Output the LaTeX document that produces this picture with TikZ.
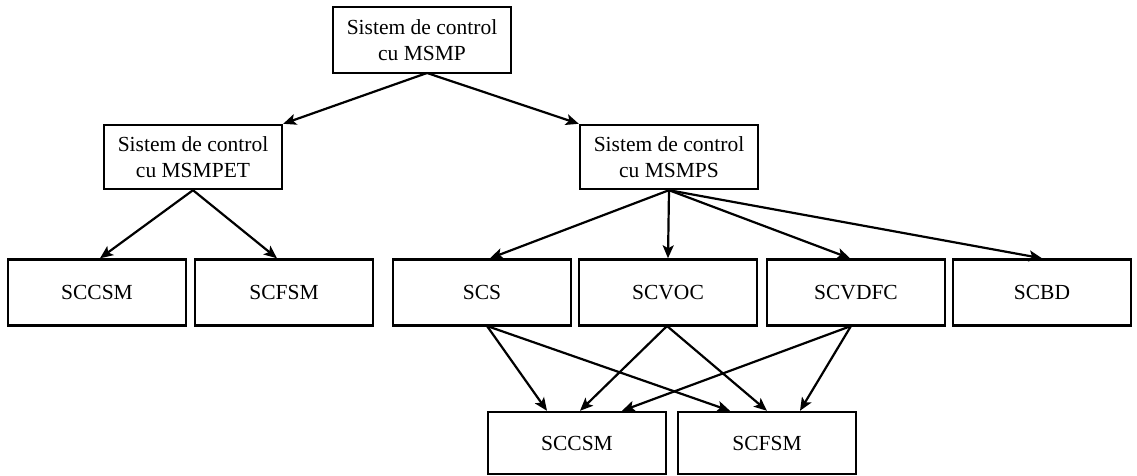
\documentclass[tikz,border=0pt]{standalone}
\usepackage{fontspec}
\setmainfont{Liberation Serif}
\usetikzlibrary{arrows.meta}
\begin{document}
\begin{tikzpicture}[x=1pt,y=-1pt,
  box/.style={draw,line width=2.4pt,inner sep=0pt,font=\fontsize{21.5}{26}\selectfont,align=center,minimum width=178pt},
  arr/.style={line width=2.2pt,-{Stealth[length=13pt,width=11pt,inset=3pt]}}]
\useasboundingbox (0,0) rectangle (1137,476);
\node[box,minimum height=66] (top) at (422,40) {Sistem de control\\cu MSMP};
\node[box,minimum height=64] (l) at (193,157) {Sistem de control\\cu MSMPET};
\node[box,minimum height=64] (r) at (669,157) {Sistem de control\\cu MSMPS};
\node[box,minimum height=66] (a) at (97,292.5) {SCCSM};
\node[box,minimum height=66] (b) at (284,292.5) {SCFSM};
\node[box,minimum height=66] (c) at (482,292.5) {SCS};
\node[box,minimum height=66] (d) at (668,292.5) {SCVOC};
\node[box,minimum height=66] (e) at (856,292.5) {SCVDFC};
\node[box,minimum height=66] (f) at (1042,292.5) {SCBD};
\node[box,minimum height=62] (g) at (577,443) {SCCSM};
\node[box,minimum height=62] (h) at (767,443) {SCFSM};
% top level
\coordinate (ts) at (427,73);
\draw[arr] (ts) -- (l.north east);
\draw[arr] (ts) -- (r.north west);
% left branch
\draw[arr] (l.south) -- ([xshift=3pt]a.north);
\draw[arr] (l.south) -- ([xshift=-7pt]b.north);
% right branch
\draw[arr] (r.south) -- ([xshift=8pt]c.north);
\draw[arr] (r.south) -- (d.north);
\draw[arr] (r.south) -- ([xshift=-6pt]e.north);
\draw[arr] (r.south) -- (f.north);
% lower
\coordinate (cs) at (487,326);
\coordinate (ds) at (667,326);
\coordinate (es) at (851,326);
\draw[arr] (cs) -- ([xshift=-30pt]g.north);
\draw[arr] (cs) -- ([xshift=-37pt]h.north);
\draw[arr] (ds) -- ([xshift=3pt]g.north);
\draw[arr] (ds) -- (h.north);
\draw[arr] (es) -- ([xshift=45pt]g.north);
\draw[arr] (es) -- ([xshift=33pt]h.north);
\end{tikzpicture}
\end{document}
